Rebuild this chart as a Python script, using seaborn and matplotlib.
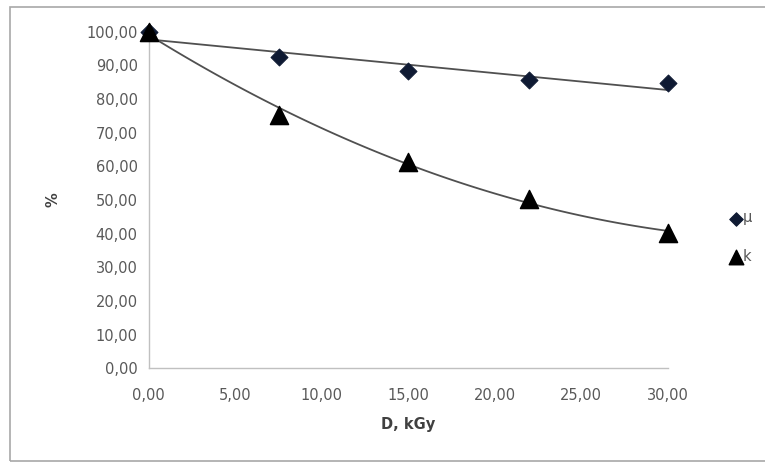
import numpy as np
import pandas as pd
import matplotlib
matplotlib.use("Agg")
import matplotlib.pyplot as plt
from matplotlib.ticker import FuncFormatter, MultipleLocator
from matplotlib.patches import Rectangle
import seaborn as sns

# data
dose = [0, 7.5, 15, 22, 30]
mu = [100.0, 92.4, 88.4, 85.6, 84.7]
k = [100.0, 75.3, 61.2, 50.3, 40.1]

sns.set_style("white")
plt.rcParams['font.family'] = ['DejaVu Sans']

df = pd.DataFrame({'D': dose, 'mu': mu, 'k': k})

fig = plt.figure(figsize=(7.65, 4.65), dpi=100)
ax = fig.add_axes([0.1945, 0.208, 0.873 - 0.1945, 0.932 - 0.208])

# trend lines (linear for mu, 2nd order polynomial for k)
sns.regplot(data=df, x='D', y='mu', scatter=False, ci=None, order=1, ax=ax,
            line_kws=dict(color='#505050', lw=1.3))
sns.regplot(data=df, x='D', y='k', scatter=False, ci=None, order=2, ax=ax,
            line_kws=dict(color='#505050', lw=1.3))

sns.scatterplot(data=df, x='D', y='mu', marker='D', s=75, color='#0f1a33',
                edgecolor='#0f1a33', label='μ', ax=ax, zorder=3, clip_on=False)
sns.scatterplot(data=df, x='D', y='k', marker='^', s=170, color='black',
                edgecolor='black', label='k', ax=ax, zorder=4, clip_on=False)

ax.set_xlim(0, 30)
ax.set_ylim(0, 100)
ax.xaxis.set_major_locator(MultipleLocator(5))
ax.yaxis.set_major_locator(MultipleLocator(10))
fmt = FuncFormatter(lambda v, p: f"{v:.2f}".replace('.', ','))
ax.xaxis.set_major_formatter(fmt)
ax.yaxis.set_major_formatter(fmt)
ax.tick_params(length=0, labelsize=10.5, labelcolor='#595959', pad=8)
ax.tick_params(axis='x', pad=14)

for s in ['top', 'right']:
    ax.spines[s].set_visible(False)
for s in ['left', 'bottom']:
    ax.spines[s].set_color('#c0c0c0')
    ax.spines[s].set_linewidth(1)

ax.set_xlabel("D, kGy", fontsize=10.5, fontweight='bold', color='#404040', labelpad=10)
ax.set_ylabel("%", fontsize=10.5, fontweight='bold', color='#404040')
ax.yaxis.set_label_coords(-0.17, 0.5)

ax.legend(loc='center left', bbox_to_anchor=(0.935, 0.49), bbox_transform=fig.transFigure,
          frameon=False, fontsize=10.5, labelspacing=1.6, handletextpad=0.0,
          handlelength=1.0, labelcolor='#595959', markerscale=0.8)

fig.patches.append(Rectangle((10 / 765, 4 / 465), 1.0, 1 - 7 / 465 - 4 / 465,
                             transform=fig.transFigure, fill=False,
                             edgecolor='#a8a8a8', lw=1.2))

fig.savefig("out.png", dpi=100)
